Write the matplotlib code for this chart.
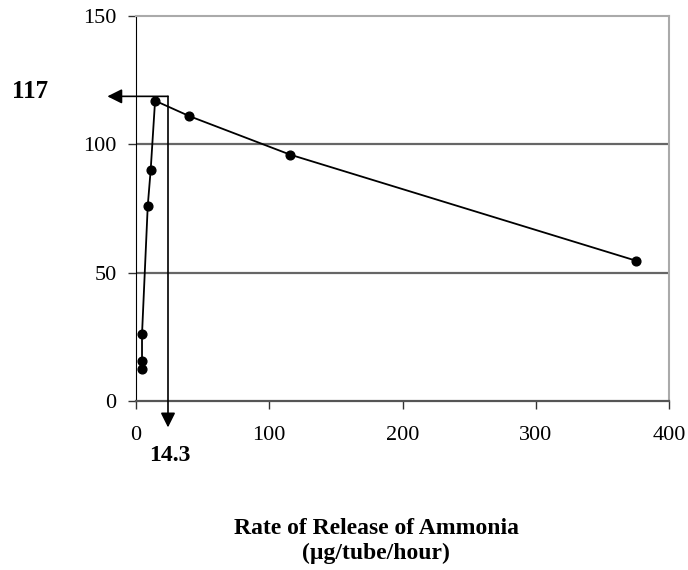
import matplotlib
matplotlib.use("Agg")
import matplotlib.pyplot as plt

# ammonia release rate vs. response
rate = [4.5, 4.5, 4.5, 8.8, 11.0, 14.3, 40.0, 115.6, 375.0]
response = [12.5, 15.7, 26.0, 76.0, 90.0, 117.0, 111.0, 96.0, 54.7]

# read-off guide (drawn box with arrows)
peak_y = 118.7
peak_x_line = 24.0
peak_label_y = "117"
peak_label_x = "14.3"

xticks = [0, 100, 200, 300, 400]
yticks = [0, 50, 100, 150]

plt.rcParams['font.family'] = ['Liberation Serif', 'DejaVu Serif']

fig = plt.figure(figsize=(6.88, 5.70), dpi=100)
ax = fig.add_axes([0.1977, 0.2965, 0.7747, 0.6754])

ax.set_xlim(0, 400)
ax.set_ylim(0, 150)
ax.set_xticks(xticks)
ax.set_yticks(yticks)
ax.tick_params(axis='both', labelsize=16, length=6, width=1, color='#333333')
ax.tick_params(axis='x', pad=12)
ax.tick_params(axis='y', pad=8)

for y in [50, 100]:
    ax.axhline(y, color='#666666', lw=1.6, zorder=1)

ax.spines['top'].set_color('#aaaaaa')
ax.spines['right'].set_color('#aaaaaa')
ax.spines['top'].set_linewidth(1.5)
ax.spines['right'].set_linewidth(1.5)
ax.spines['left'].set_color('black')
ax.spines['bottom'].set_color('#555555')
ax.spines['bottom'].set_linewidth(1.6)

ax.plot(rate, response, color='black', lw=1.3, marker='o', ms=6.3, zorder=3)

# guide lines with arrows
ax.annotate('', xy=(-21.5, peak_y), xytext=(peak_x_line, peak_y),
            xycoords='data', textcoords='data',
            arrowprops=dict(arrowstyle='-|>', color='black', lw=1.2,
                            mutation_scale=22, shrinkA=0, shrinkB=0),
            annotation_clip=False)
ax.annotate('', xy=(peak_x_line, -10.3), xytext=(peak_x_line, peak_y),
            xycoords='data', textcoords='data',
            arrowprops=dict(arrowstyle='-|>', color='black', lw=1.2,
                            mutation_scale=22, shrinkA=0, shrinkB=0),
            annotation_clip=False)

ax.text(-79.5, 120.4, peak_label_y, fontsize=18, fontweight='bold',
        ha='center', va='center', clip_on=False)
ax.text(25.5, -21.2, peak_label_x, fontsize=17, fontweight='bold',
        ha='center', va='center', clip_on=False)

fig.text(0.547, 0.051, "Rate of Release of Ammonia\n(\u00b5g/tube/hour)",
         fontsize=17, fontweight='bold', ha='center', va='center',
         linespacing=1.2)

fig.savefig("out.png", dpi=100)
